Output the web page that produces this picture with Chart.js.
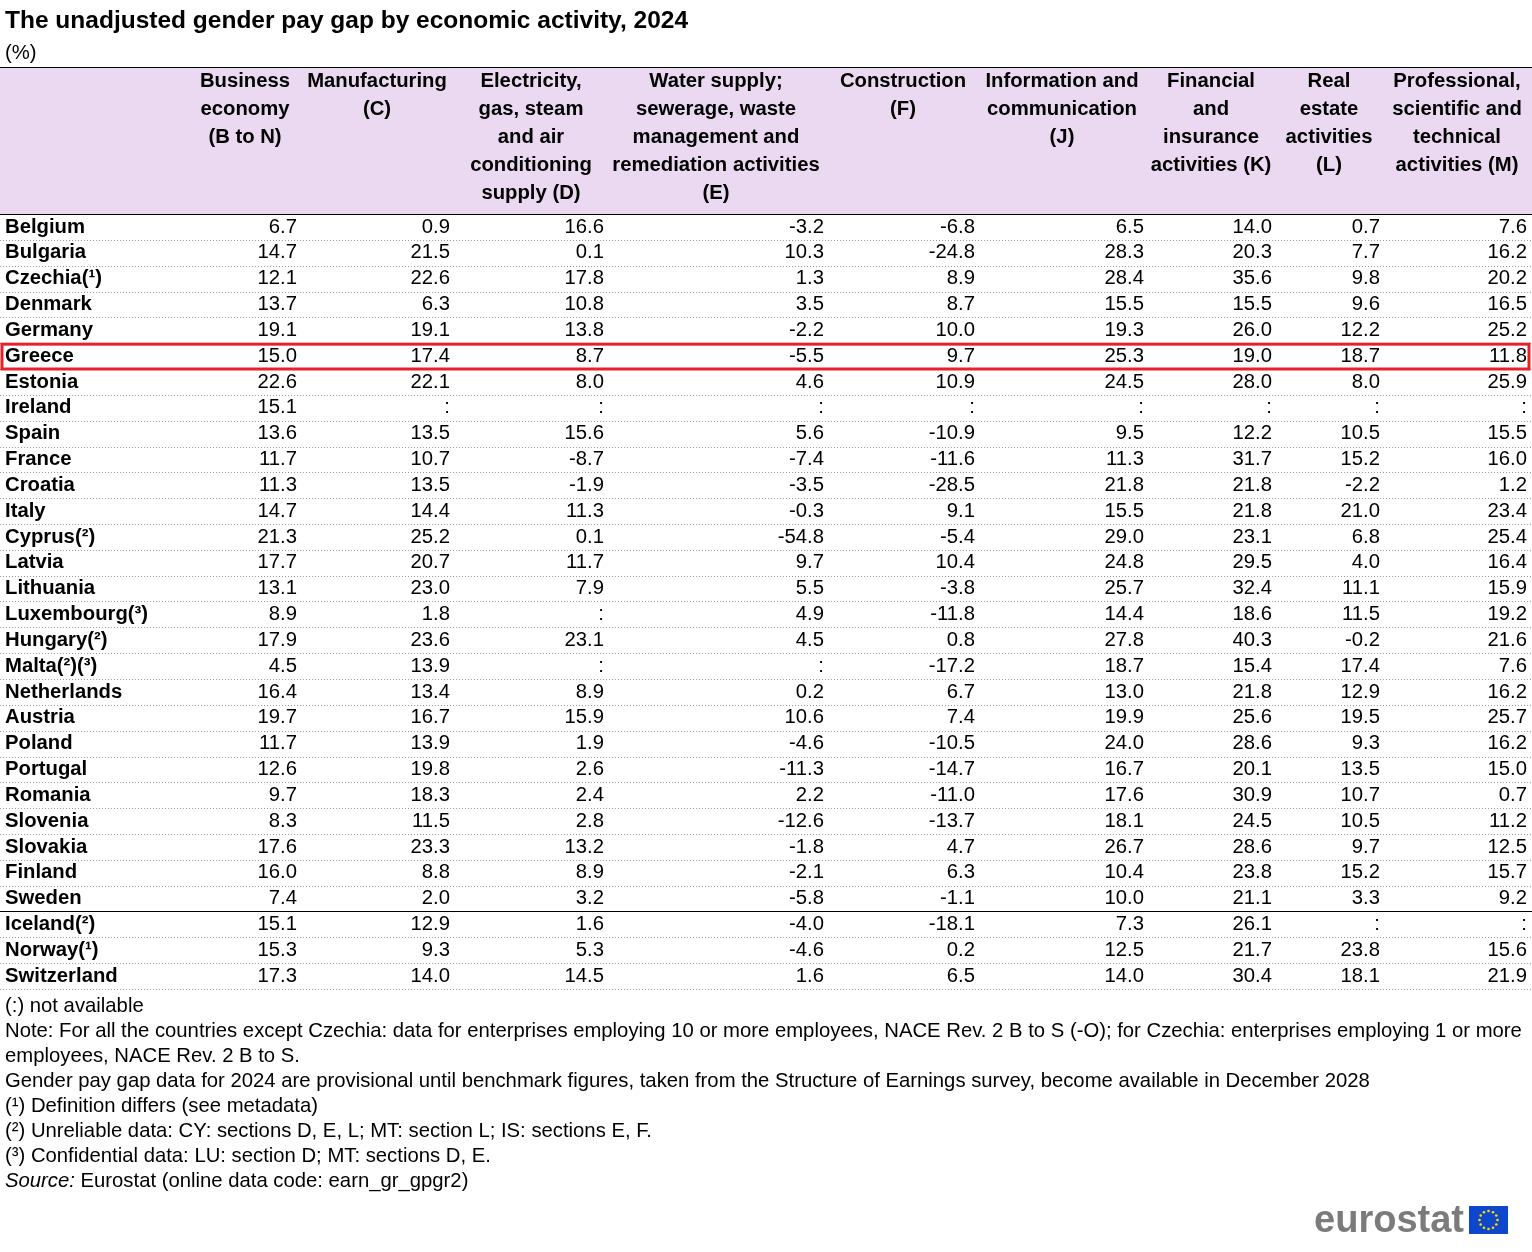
<!DOCTYPE html>
<html lang="en">
<head>
  <meta charset="UTF-8" />
  <title>Gender pay gap by economic activity</title>
  <script src="https://cdn.jsdelivr.net/npm/chart.js"></script>
  <style>
    body { margin: 0; background: #fff; }
    #wrap { width: 1532px; height: 1252px; }
  </style>
</head>
<body>
<div id="wrap"><canvas id="tbl" width="1532" height="1252"></canvas></div>
<script>
const countries = ['Belgium','Bulgaria','Czechia(¹)','Denmark','Germany','Greece','Estonia','Ireland','Spain','France','Croatia','Italy','Cyprus(²)','Latvia','Lithuania','Luxembourg(³)','Hungary(²)','Malta(²)(³)','Netherlands','Austria','Poland','Portugal','Romania','Slovenia','Slovakia','Finland','Sweden','Iceland(²)','Norway(¹)','Switzerland'];

const headers = [
  ['Business','economy','(B to N)'],
  ['Manufacturing','(C)'],
  ['Electricity,','gas, steam','and air','conditioning','supply (D)'],
  ['Water supply;','sewerage, waste','management and','remediation activities','(E)'],
  ['Construction','(F)'],
  ['Information and','communication','(J)'],
  ['Financial','and','insurance','activities (K)'],
  ['Real','estate','activities','(L)'],
  ['Professional,','scientific and','technical','activities (M)']
];

const business = [6.7,14.7,12.1,13.7,19.1,15.0,22.6,15.1,13.6,11.7,11.3,14.7,21.3,17.7,13.1,8.9,17.9,4.5,16.4,19.7,11.7,12.6,9.7,8.3,17.6,16.0,7.4,15.1,15.3,17.3];
const manufacturing = [0.9,21.5,22.6,6.3,19.1,17.4,22.1,null,13.5,10.7,13.5,14.4,25.2,20.7,23.0,1.8,23.6,13.9,13.4,16.7,13.9,19.8,18.3,11.5,23.3,8.8,2.0,12.9,9.3,14.0];
const electricity = [16.6,0.1,17.8,10.8,13.8,8.7,8.0,null,15.6,-8.7,-1.9,11.3,0.1,11.7,7.9,null,23.1,null,8.9,15.9,1.9,2.6,2.4,2.8,13.2,8.9,3.2,1.6,5.3,14.5];
const water = [-3.2,10.3,1.3,3.5,-2.2,-5.5,4.6,null,5.6,-7.4,-3.5,-0.3,-54.8,9.7,5.5,4.9,4.5,null,0.2,10.6,-4.6,-11.3,2.2,-12.6,-1.8,-2.1,-5.8,-4.0,-4.6,1.6];
const construction = [-6.8,-24.8,8.9,8.7,10.0,9.7,10.9,null,-10.9,-11.6,-28.5,9.1,-5.4,10.4,-3.8,-11.8,0.8,-17.2,6.7,7.4,-10.5,-14.7,-11.0,-13.7,4.7,6.3,-1.1,-18.1,0.2,6.5];
const information = [6.5,28.3,28.4,15.5,19.3,25.3,24.5,null,9.5,11.3,21.8,15.5,29.0,24.8,25.7,14.4,27.8,18.7,13.0,19.9,24.0,16.7,17.6,18.1,26.7,10.4,10.0,7.3,12.5,14.0];
const financial = [14.0,20.3,35.6,15.5,26.0,19.0,28.0,null,12.2,31.7,21.8,21.8,23.1,29.5,32.4,18.6,40.3,15.4,21.8,25.6,28.6,20.1,30.9,24.5,28.6,23.8,21.1,26.1,21.7,30.4];
const realEstate = [0.7,7.7,9.8,9.6,12.2,18.7,8.0,null,10.5,15.2,-2.2,21.0,6.8,4.0,11.1,11.5,-0.2,17.4,12.9,19.5,9.3,13.5,10.7,10.5,9.7,15.2,3.3,null,23.8,18.1];
const professional = [7.6,16.2,20.2,16.5,25.2,11.8,25.9,null,15.5,16.0,1.2,23.4,25.4,16.4,15.9,19.2,21.6,7.6,16.2,25.7,16.2,15.0,0.7,11.2,12.5,15.7,9.2,null,15.6,21.9];

const series = [business, manufacturing, electricity, water, construction, information, financial, realEstate, professional];

const footnotes = [
  '(:) not available',
  'Note: For all the countries except Czechia: data for enterprises employing 10 or more employees, NACE Rev. 2 B to S (-O); for Czechia: enterprises employing 1 or more',
  'employees, NACE Rev. 2 B to S.',
  'Gender pay gap data for 2024 are provisional until benchmark figures, taken from the Structure of Earnings survey, become available in December 2028',
  '(¹) Definition differs (see metadata)',
  '(²) Unreliable data: CY: sections D, E, L; MT: section L; IS: sections E, F.',
  '(³) Confidential data: LU: section D; MT: sections D, E.'
];

// column right edges / header centres in x-scale units (0..1532)
const colRight = [297, 450, 604, 824, 975, 1144, 1272, 1380, 1527];
const colMid = [245, 377, 531, 716, 903, 1062, 1211, 1329, 1457];
const FONT = '"Liberation Sans", Arial, sans-serif';

const tablePlugin = {
  id: 'table',
  afterDraw(chart) {
    const ctx = chart.ctx;
    const x = chart.scales.x, y = chart.scales.y;
    const rowH = y.getPixelForValue(1) - y.getPixelForValue(0);
    const top = y.getPixelForValue(0) - rowH / 2;
    const bottom = y.getPixelForValue(countries.length - 1) + rowH / 2;
    ctx.save();

    ctx.fillStyle = '#000';
    ctx.textBaseline = 'middle';
    ctx.font = 'bold 24.5px ' + FONT;
    ctx.fillText('The unadjusted gender pay gap by economic activity, 2024', 5, 21);
    ctx.font = '20.3px ' + FONT;
    ctx.fillText('(%)', 5, 53);

    // header
    ctx.fillStyle = '#ead9f0';
    ctx.fillRect(x.getPixelForValue(0), 67, x.getPixelForValue(1532) - x.getPixelForValue(0), top - 67);
    ctx.strokeStyle = '#000';
    ctx.lineWidth = 1;
    ctx.beginPath();
    ctx.moveTo(0, 67.5); ctx.lineTo(1532, 67.5);
    ctx.moveTo(0, top + 0.5); ctx.lineTo(1532, top + 0.5);
    ctx.stroke();

    ctx.fillStyle = '#000';
    ctx.font = 'bold 20.3px ' + FONT;
    ctx.textAlign = 'center';
    headers.forEach((lines, c) => {
      lines.forEach((l, i) => ctx.fillText(l, x.getPixelForValue(colMid[c]), 81 + i * 28));
    });

    // rows
    countries.forEach((name, r) => {
      const py = y.getPixelForValue(r);
      ctx.textAlign = 'left';
      ctx.font = 'bold 20.3px ' + FONT;
      ctx.fillStyle = '#000';
      ctx.fillText(name, 5, py);
      ctx.textAlign = 'right';
      ctx.font = '20.3px ' + FONT;
      series.forEach((s, c) => {
        const v = s[r];
        ctx.fillText(v === null ? ':' : v.toFixed(1), x.getPixelForValue(colRight[c]), py);
      });
      const ly = Math.round(py + rowH / 2) + 0.5;
      ctx.beginPath();
      if (r === 26) {
        ctx.setLineDash([]);
        ctx.strokeStyle = '#000';
      } else {
        ctx.setLineDash([1, 2]);
        ctx.strokeStyle = '#999';
      }
      ctx.moveTo(0, ly); ctx.lineTo(1532, ly);
      ctx.stroke();
    });
    ctx.setLineDash([]);

    // highlight Greece
    const gy = y.getPixelForValue(5);
    ctx.strokeStyle = '#e8202a';
    ctx.lineWidth = 3;
    ctx.strokeRect(2, gy - rowH / 2 + 1, 1527, rowH - 1);

    // footnotes
    ctx.fillStyle = '#000';
    ctx.textAlign = 'left';
    ctx.font = '20.3px ' + FONT;
    footnotes.forEach((t, i) => ctx.fillText(t, 5, bottom + 17 + i * 25));
    const sy = bottom + 17 + footnotes.length * 25;
    ctx.font = 'italic 20.3px ' + FONT;
    ctx.fillText('Source:', 5, sy);
    const w = ctx.measureText('Source: ').width;
    ctx.font = '20.3px ' + FONT;
    ctx.fillText('Eurostat (online data code: earn_gr_gpgr2)', 5 + w, sy);

    // logo
    ctx.font = 'bold 38px ' + FONT;
    ctx.fillStyle = '#7b7b7b';
    ctx.textAlign = 'right';
    ctx.fillText('eurostat', 1464, 1222);
    ctx.fillStyle = '#0e47cb';
    ctx.fillRect(1469, 1206, 39, 28);
    ctx.fillStyle = '#ffdd00';
    for (let k = 0; k < 12; k++) {
      const a = k * Math.PI / 6;
      ctx.beginPath();
      ctx.arc(1488.5 + 9 * Math.cos(a), 1220 + 9 * Math.sin(a), 1.3, 0, Math.PI * 2);
      ctx.fill();
    }
    ctx.restore();
  }
};

new Chart(document.getElementById('tbl'), {
  type: 'scatter',
  data: {
    labels: countries,
    datasets: [{ data: [], pointRadius: 0 }]
  },
  options: {
    responsive: false,
    animation: false,
    devicePixelRatio: 1,
    layout: { padding: { top: 214, bottom: 263, left: 0, right: 0 } },
    scales: {
      x: { type: 'linear', min: 0, max: 1532, display: false },
      y: { type: 'category', labels: countries, offset: true, display: false }
    },
    plugins: { legend: { display: false }, tooltip: { enabled: false } }
  },
  plugins: [tablePlugin]
});
</script>
</body>
</html>
